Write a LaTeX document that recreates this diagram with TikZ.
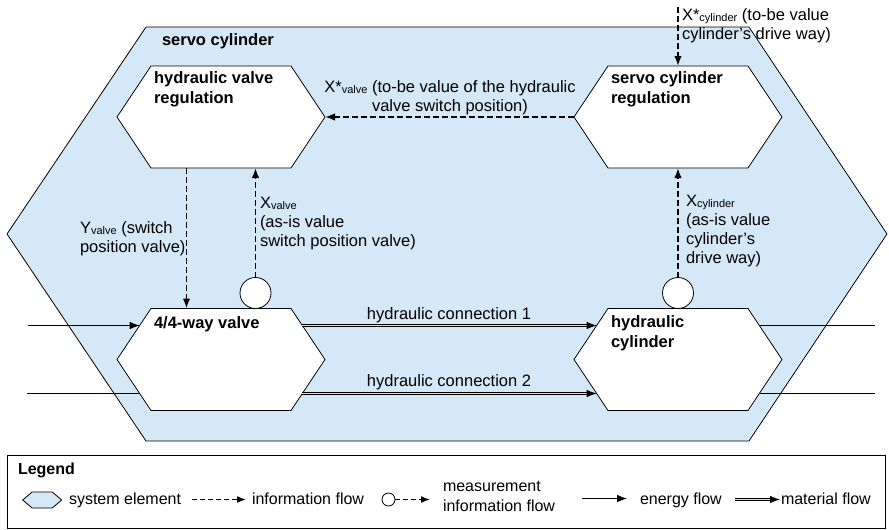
\documentclass[tikz,border=0pt]{standalone}
\usepackage{fontspec}
\setmainfont{Liberation Sans}
\usetikzlibrary{arrows.meta}
\definecolor{sysblue}{RGB}{212,232,248}
% small subscript set in the text font, barely lowered
\newcommand\lowsub[1]{\raisebox{-1pt}{\fontsize{11}{11}\selectfont #1}}

\begin{document}
\begin{tikzpicture}[x=1pt,y=-1pt,
  every node/.style={inner sep=0pt, outer sep=0pt},
  lbl/.style={font=\fontsize{16.5}{19}\selectfont, align=left, anchor=north west},
  bold/.style={font=\fontsize{16.5}{19.5}\selectfont\bfseries, align=left},
  leg/.style={font=\fontsize{16}{20}\selectfont, align=left},
  hexbox/.style={minimum width=140pt, minimum height=102pt},
  hexline/.style={draw=black, line width=0.8pt, fill=white, line join=miter},
  sysline/.style={draw=black, line width=0.8pt, fill=sysblue},
  meas/.style={circle, draw=black, line width=0.8pt, fill=white, minimum size=31pt},
  info/.style={line width=1.8pt, dash pattern=on 6pt off 3pt, -{Latex[length=10pt,width=7.5pt]}},
  infoleg/.style={line width=1.6pt, dash pattern=on 5pt off 3pt, -{Latex[length=9pt,width=7pt]}},
  energy/.style={line width=0.9pt, -{Latex[length=10pt,width=7.5pt]}},
  eline/.style={line width=0.9pt},
  matline/.style={line width=0.8pt, double=gray!25, double distance=1.6pt, shorten >=8pt},
  mattip/.style={line width=0.8pt, -{Latex[length=10pt,width=7.5pt]}}
]
\useasboundingbox (0,0) rectangle (889,530);

% system boundary of the servo cylinder
\draw[sysline] (146,27) -- (749,27) -- (887,234) -- (749,441) -- (146,441) -- (7,234) -- cycle;
\node[bold, anchor=base west] (systitle) at (162,45.5) {servo cylinder};

% system elements
\node[hexbox] (hvr) at (221,117) {};
\node[hexbox] (scr) at (678,117) {};
\node[hexbox] (vv)  at (221,359.5) {};
\node[hexbox] (hc)  at (678,359.5) {};
\foreach \n in {hvr,scr,vv,hc}
  \draw[hexline] (\n.north west) -- (\n.north east) -- ([xshift=34pt]\n.east)
    -- (\n.south east) -- (\n.south west) -- ([xshift=-34pt]\n.west) -- cycle;

\node[bold, anchor=north west] (hvrtxt) at (154,72) {hydraulic valve\\regulation};
\node[bold, anchor=north west] (scrtxt) at (611,72) {servo cylinder\\regulation};
\node[bold, anchor=base west]  (vvtxt)  at (154,328) {4/4-way valve};
\node[bold, anchor=north west] (hctxt)  at (611,316) {hydraulic\\cylinder};

% tips and edge points of the elements
\coordinate (hvrR) at ([xshift=34pt]hvr.east);
\coordinate (scrL) at ([xshift=-34pt]scr.west);
\coordinate (vvL1) at ([xshift=-11.33pt,yshift=-17pt]vv.north west);
\coordinate (vvL2) at ([xshift=-11.33pt,yshift=17pt]vv.south west);
\coordinate (vvR1) at ([xshift=11.33pt,yshift=-17pt]vv.north east);
\coordinate (vvR2) at ([xshift=11.33pt,yshift=17pt]vv.south east);
\coordinate (hcL1) at ([xshift=-11.33pt,yshift=-17pt]hc.north west);
\coordinate (hcL2) at ([xshift=-11.33pt,yshift=17pt]hc.south west);
\coordinate (hcR1) at ([xshift=11.33pt,yshift=-17pt]hc.north east);
\coordinate (hcR2) at ([xshift=11.33pt,yshift=17pt]hc.south east);

% measurement points
\node[meas, anchor=south] (mv) at ([xshift=34.5pt]vv.north) {};
\node[meas, anchor=south] (mc) at (hc.north) {};

% information flows
\draw[info] (scrL) -- (hvrR);
\node[lbl, align=center, anchor=north] (xvset) at (450,81)
  {X*\lowsub{valve} (to-be value of the hydraulic\\valve switch position)};

\coordinate (setpoint) at (678,7);
\draw[info] (setpoint) -- (scr.north);
\node[lbl] (xcset) at (682,9) {X*\lowsub{cylinder} (to-be value\\cylinder’s drive way)};

\draw[info] ([xshift=-34.5pt]hvr.south) -- ([xshift=-34.5pt]vv.north);
\node[lbl] (yv) at (80,222) {Y\lowsub{valve} (switch\\position valve)};

\draw[info] (mv.north) -- (mv.north |- hvr.south);
\node[lbl] (xv) at (260,197) {X\lowsub{valve}\\(as-is value\\switch position valve)};

\draw[info] (mc.north) -- (scr.south);
\node[lbl] (xc) at (686,195) {X\lowsub{cylinder}\\(as-is value\\cylinder’s\\drive way)};

% energy flows
\coordinate (supply1) at (28,325.5);
\coordinate (supply2) at (27,393.5);
\coordinate (out1) at (875,325.5);
\coordinate (out2) at (875,393.5);
\draw[energy] (supply1) -- (vvL1);
\draw[eline] (supply2) -- (vvL2);
\draw[eline] (hcR1) -- (out1);
\draw[eline] (hcR2) -- (out2);

% material flows
\draw[matline] (vvR1) -- (hcL1);
\draw[mattip] ([xshift=-10pt]hcL1) -- (hcL1);
\draw[matline] (vvR2) -- (hcL2);
\draw[mattip] ([xshift=-10pt]hcL2) -- (hcL2);
\node[lbl, anchor=base] (hc1) at (449,319) {hydraulic connection 1};
\node[lbl, anchor=base] (hc2) at (449,386) {hydraulic connection 2};

% legend
\node[draw=black, line width=0.8pt, minimum width=878pt, minimum height=73pt, anchor=north west]
  (legendbox) at (7,455) {};
\node[bold, font=\fontsize{16}{20}\selectfont\bfseries, anchor=base west] (legtitle) at (18,474) {Legend};

\node[minimum width=20pt, minimum height=16pt] (lhex) at (42.2,500) {};
\draw[line width=0.8pt, fill=sysblue] (lhex.north west) -- (lhex.north east) -- ([xshift=9.5pt]lhex.east)
  -- (lhex.south east) -- (lhex.south west) -- ([xshift=-9.5pt]lhex.west) -- cycle;
\node[leg, anchor=base west] (lsys) at (69,504) {system element};

\coordinate (li1s) at (192,499.5);
\coordinate (li1e) at (246,499.5);
\draw[infoleg] (li1s) -- (li1e);
\node[leg, anchor=base west] (linfo) at (252,504) {information flow};

\node[circle, draw=black, line width=0.8pt, fill=white, minimum size=13pt] (lcirc) at (388.5,499.5) {};
\coordinate (lm1e) at (430,499.5);
\draw[infoleg] (lcirc.east) -- (lm1e);
\node[leg, anchor=north west] (lmeas) at (443,481) {measurement\\information flow};

\coordinate (le1s) at (582,498.5);
\coordinate (le1e) at (627,498.5);
\draw[energy] (le1s) -- (le1e);
\node[leg, anchor=base west] (lenergy) at (640,504) {energy flow};

\coordinate (lmat1s) at (735,499.5);
\coordinate (lmat1e) at (780,499.5);
\draw[matline] (lmat1s) -- (lmat1e);
\draw[mattip] ([xshift=-10pt]lmat1e) -- (lmat1e);
\node[leg, anchor=base west] (lmat) at (781,504) {material flow};
\end{tikzpicture}
\end{document}
